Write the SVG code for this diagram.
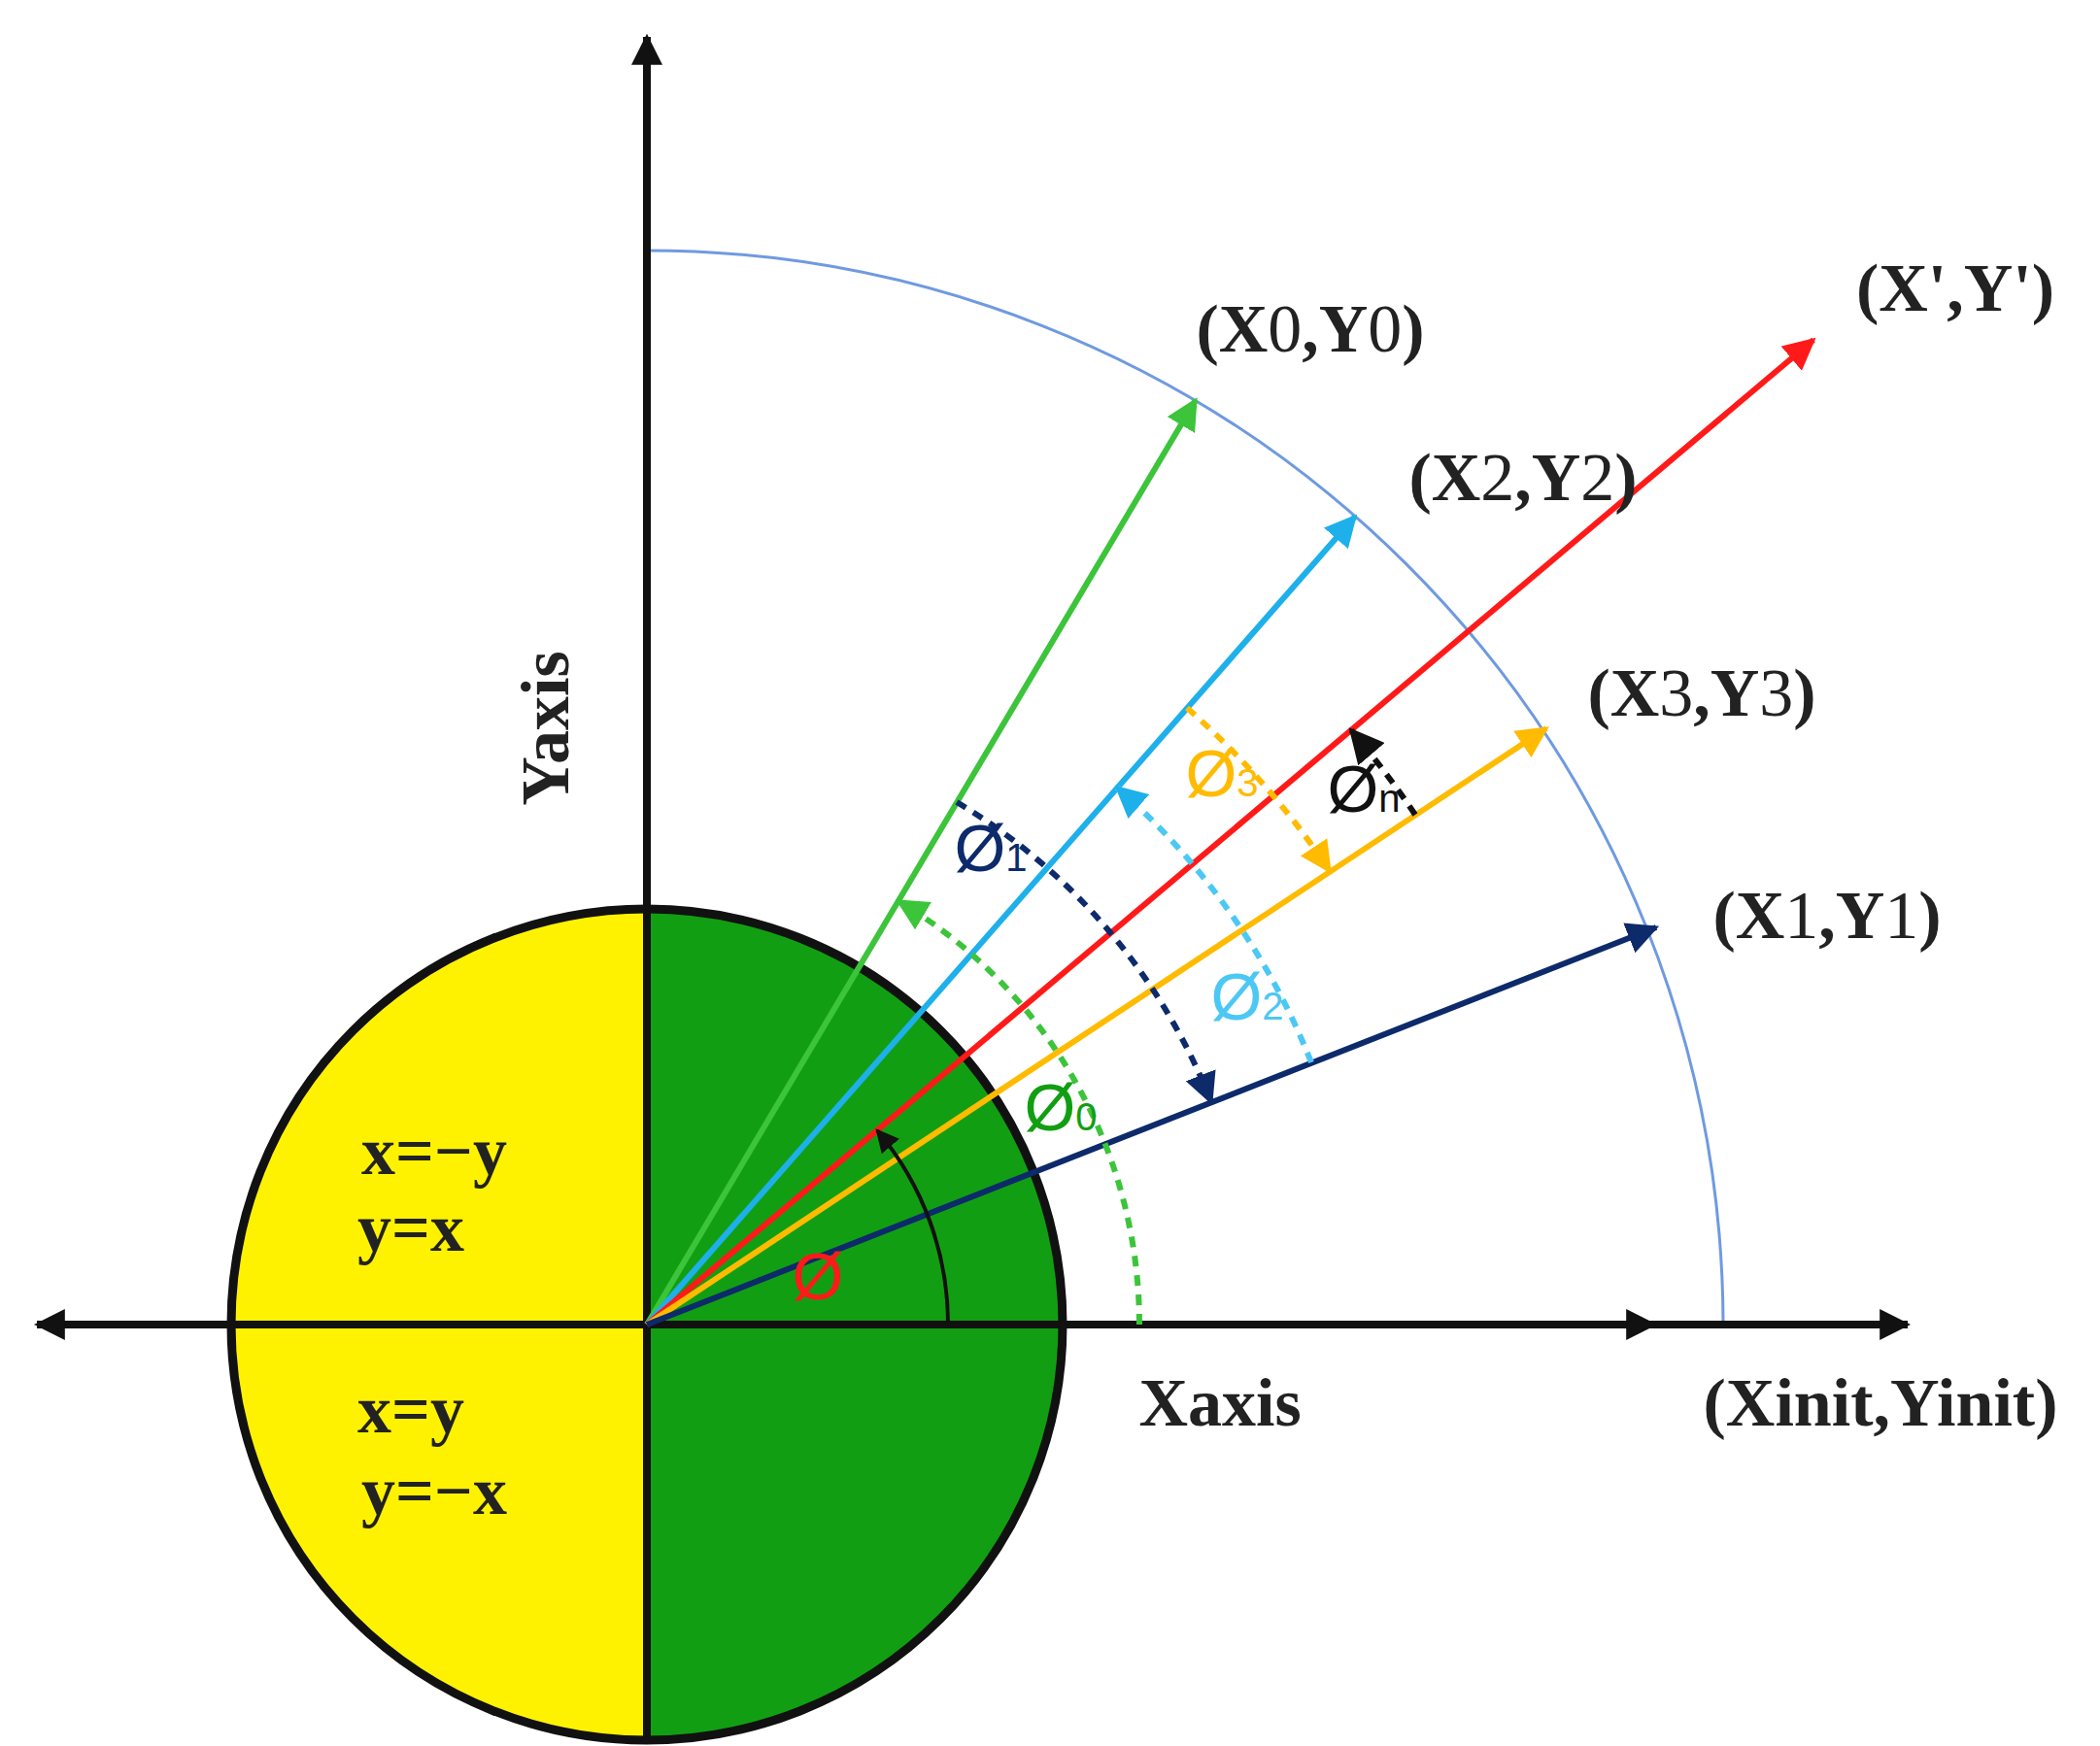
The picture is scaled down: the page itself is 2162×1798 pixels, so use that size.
<svg xmlns="http://www.w3.org/2000/svg" width="2162" height="1798" viewBox="0 0 2162 1798">
<style>
.lbl{font-family:"Liberation Serif",serif;font-weight:bold;font-size:70px;fill:#222;text-anchor:middle}
.phi{font-family:"Liberation Sans",sans-serif;font-size:68px;text-anchor:middle}
.sub{font-size:40px}
.vec{stroke-width:6;fill:none}
.dash{stroke-width:6;fill:none;stroke-dasharray:11 9}
</style>
<defs>
<marker id="ag" viewBox="0 0 10 10" refX="9" refY="5" markerWidth="5.5" markerHeight="5.5" orient="auto"><path d="M0,0L10,5L0,10z" fill="#3cc43a"/></marker>
<marker id="ac" viewBox="0 0 10 10" refX="9" refY="5" markerWidth="5.5" markerHeight="5.5" orient="auto"><path d="M0,0L10,5L0,10z" fill="#1eb0ea"/></marker>
<marker id="ar" viewBox="0 0 10 10" refX="9" refY="5" markerWidth="5.5" markerHeight="5.5" orient="auto"><path d="M0,0L10,5L0,10z" fill="#ff1a1a"/></marker>
<marker id="ao" viewBox="0 0 10 10" refX="9" refY="5" markerWidth="5.5" markerHeight="5.5" orient="auto"><path d="M0,0L10,5L0,10z" fill="#ffbb00"/></marker>
<marker id="an" viewBox="0 0 10 10" refX="9" refY="5" markerWidth="5.5" markerHeight="5.5" orient="auto"><path d="M0,0L10,5L0,10z" fill="#0d2a6b"/></marker>
<marker id="ab" viewBox="0 0 10 10" refX="9" refY="5" markerWidth="4" markerHeight="4" orient="auto"><path d="M0,0L10,5L0,10z" fill="#111"/></marker>
<marker id="abs" viewBox="0 0 10 10" refX="9" refY="5" markerWidth="6" markerHeight="6" orient="auto"><path d="M0,0L10,5L0,10z" fill="#111"/></marker>
</defs>
<rect width="2162" height="1798" fill="#fff"/>
<g id="circle">
<path d="M666,936 A428,428 0 0,0 666,1792 Z" fill="#fff200"/>
<path d="M666,936 A428,428 0 0,1 666,1792 Z" fill="#129e12"/>
<circle cx="666" cy="1364" r="428" fill="none" stroke="#111" stroke-width="9"/>
</g>
<g id="arc">
<path d="M666,258 A1108,1108 0 0,1 1774,1360" fill="none" stroke="#6f9ae0" stroke-width="3"/>
</g>
<g id="axes">
<line x1="666" y1="1792" x2="666" y2="38" stroke="#111" stroke-width="8" marker-end="url(#ab)"/>
<line x1="666" y1="1364" x2="1964" y2="1364" stroke="#111" stroke-width="8" marker-end="url(#ab)"/>
<line x1="666" y1="1364" x2="38" y2="1364" stroke="#111" stroke-width="8" marker-end="url(#ab)"/>
<line x1="1600" y1="1364" x2="1703" y2="1364" stroke="#111" stroke-width="8" marker-end="url(#ab)"/>
</g>
<g id="connectors">
<line class="vec" x1="666" y1="1364" x2="1231" y2="412" stroke="#3cc43a" marker-end="url(#ag)"/>
<line class="vec" x1="666" y1="1364" x2="1395" y2="532" stroke="#1eb0ea" marker-end="url(#ac)"/>
<line class="vec" x1="666" y1="1364" x2="1867" y2="350" stroke="#ff1a1a" marker-end="url(#ar)"/>
<line class="vec" x1="666" y1="1364" x2="1592" y2="750" stroke="#ffbb00" marker-end="url(#ao)"/>
<line class="vec" x1="666" y1="1364" x2="1705" y2="955" stroke="#0d2a6b" marker-end="url(#an)"/>
<path class="dash" d="M1173,1364 A507,507 0 0,0 925,928" stroke="#3cc43a" marker-end="url(#ag)"/>
<path class="dash" d="M985,826 A625,625 0 0,1 1247,1135" stroke="#0d2a6b" marker-end="url(#an)"/>
<path class="dash" d="M1350,1094 A735,735 0 0,0 1150,811" stroke="#4cc8f4" marker-end="url(#ac)"/>
<path class="dash" d="M1222,729 A844,844 0 0,1 1369,897" stroke="#ffbb00" marker-end="url(#ao)"/>
<path class="dash" d="M1457,839 A949,949 0 0,0 1391,752" stroke="#111" marker-end="url(#abs)"/>
<path d="M976,1364 A310,310 0 0,0 903,1164" fill="none" stroke="#111" stroke-width="4" marker-end="url(#abs)"/>
</g>
<g id="labels">
<text class="lbl" x="1349" y="362">(X<tspan font-weight="normal">0</tspan>,Y<tspan font-weight="normal">0</tspan>)</text>
<text class="lbl" x="1568" y="515">(X<tspan font-weight="normal">2</tspan>,Y<tspan font-weight="normal">2</tspan>)</text>
<text class="lbl" x="2013" y="320">(X',Y')</text>
<text class="lbl" x="1752" y="737">(X<tspan font-weight="normal">3</tspan>,Y<tspan font-weight="normal">3</tspan>)</text>
<text class="lbl" x="1881" y="966">(X<tspan font-weight="normal">1</tspan>,Y<tspan font-weight="normal">1</tspan>)</text>
<text class="lbl" x="1936" y="1468">(Xinit,Yinit)</text>
<text class="lbl" x="1256" y="1468">Xaxis</text>
<text class="lbl" transform="translate(585,750) rotate(-90)">Yaxis</text>
<text class="lbl" x="447" y="1209">x=−y</text>
<text class="lbl" x="423" y="1288">y=x</text>
<text class="lbl" x="423" y="1475">x=y</text>
<text class="lbl" x="447" y="1559">y=−x</text>
<text class="phi" x="1020" y="897" fill="#0d2a6b">Ø<tspan class="sub">1</tspan></text>
<text class="phi" x="1092" y="1164" fill="#129e12">Ø<tspan class="sub">0</tspan></text>
<text class="phi" x="1284" y="1050" fill="#4cc8f4">Ø<tspan class="sub">2</tspan></text>
<text class="phi" x="1258" y="820" fill="#ffbb00">Ø<tspan class="sub">3</tspan></text>
<text class="phi" x="1404" y="836" fill="#111">Ø<tspan class="sub">n</tspan></text>
<text class="phi" x="842" y="1338" fill="#ff1a1a" font-size="90">Ø</text>
</g>
</svg>
